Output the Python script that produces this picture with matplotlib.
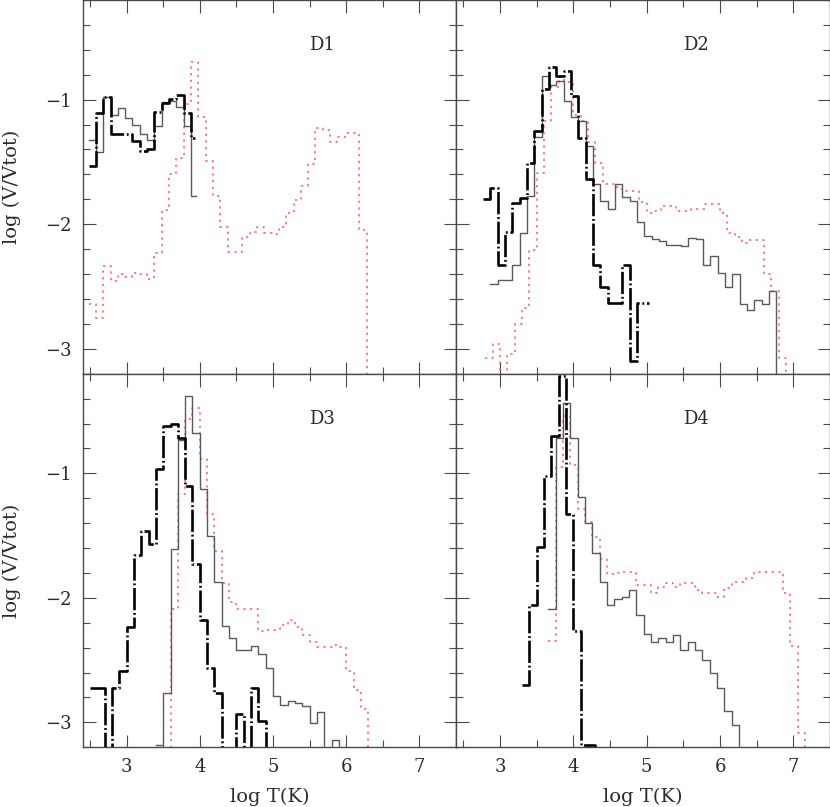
import numpy as np
import matplotlib
matplotlib.use("Agg")
import matplotlib.pyplot as plt
from matplotlib.ticker import MultipleLocator

# ---------------- data (log V/Vtot per 0.1-dex log T bin) ----------------
BIN = 0.1
panel_names = ["D1", "D2", "D3", "D4"]
x_ticks = [3, 4, 5, 6, 7]
y_ticks = [-3, -2, -1]

# D1
d1_black_x0 = 2.48
d1_black = [-1.53, -1.107, -0.975, -1.275, -1.275, -1.275, -1.33, -1.41, -1.40,
            -1.10, -1.025, -0.995, -0.96, -1.105, -1.305]
d1_black_last = 0.05
d1_gray_x0 = 2.48
d1_gray = [-1.32, -1.42, -0.98, -1.12, -1.067, -1.147, -1.20, -1.275, -1.326,
           -1.214, -1.019, -1.008, -1.059, -1.214, -1.775]
d1_gray_last = 0.07
d1_red_x0 = 2.48
d1_red = [-2.644, -2.751, -2.337, -2.457, -2.396, -2.42, -2.39, -2.40, -2.44,
          -2.235, -1.888, -1.594, -1.468, -1.035, -0.698, -1.139, -1.492, -1.775,
          -2.024, -2.222, -2.222, -2.104, -2.061, -2.024, -2.07, -2.078, -2.02,
          -1.909, -1.802, -1.695, -1.513, -1.227, -1.24, -1.342, -1.30, -1.267,
          -1.267, -2.048, -3.3]

# D2
d2_black_x0 = 2.77
d2_black = [-1.80, -1.71, -2.33, -2.06, -1.83, -1.79, -1.51, -1.254, -0.914, -0.74,
            -0.807, -0.767, -0.973, -1.307, -1.64, -2.33, -2.50, -2.63, -2.63,
            -2.33, -3.10, -2.63, -2.63]
d2_black_last = 0.06
d2_gray_x0 = 2.87
d2_gray = [-2.476, -2.449, -2.449, -2.33, -2.07, -1.77, -1.30, -0.813, -0.88,
           -0.853, -1.013, -1.14, -1.174, -1.374, -1.68, -1.81, -1.88, -1.676,
           -1.78, -1.81, -1.984, -2.096, -2.118, -2.136, -2.163, -2.163, -2.176,
           -2.11, -2.118, -2.33, -2.257, -2.39, -2.503, -2.396, -2.644, -2.69,
           -2.61, -2.644, -2.537, -3.3]
d2_red_x0 = 2.8
d2_red = [-3.07, -2.965, -3.3, -3.045, -2.805, -2.67, -2.203, -1.588, -1.174, -0.90,
          -0.84, -0.86, -1.12, -1.174, -1.34, -1.51, -1.675, -1.675, -1.72, -1.736,
          -1.736, -1.825, -1.91, -1.89, -1.857, -1.85, -1.89, -1.89, -1.88, -1.877,
          -1.834, -1.84, -1.91, -2.07, -2.104, -2.15, -2.123, -2.13, -2.396,
          -2.537, -3.072, -3.3]

# D3
d3_black_x0 = 2.5
d3_black = [-2.725, -2.725, -3.3, -2.725, -2.586, -2.23, -1.656, -1.464, -1.565,
            -0.965, -0.62, -0.605, -0.714, -1.10, -1.73, -2.176, -2.564, -2.76,
            -3.3, -3.3, -2.93, -3.3, -2.725, -2.99, -3.3]
d3_gray_x0 = 3.4
d3_gray = [-3.18, -2.76, -1.61, -0.73, -0.38, -0.675, -1.125, -1.505, -1.875,
           -2.222, -2.32, -2.417, -2.417, -2.39, -2.45, -2.56, -2.79, -2.86, -2.83,
           -2.845, -2.87, -3.005, -2.92, -3.3, -3.14, -3.3]
d3_red_x0 = 3.5
d3_red = [-3.3, -2.09, -1.17, -0.566, -0.478, -0.885, -1.33, -1.625, -1.878, -2.03,
          -2.09, -2.09, -2.09, -2.27, -2.257, -2.257, -2.217, -2.176, -2.23, -2.297,
          -2.358, -2.396, -2.396, -2.377, -2.396, -2.59, -2.743, -2.893, -3.3]

# D4
d4_black_x0 = 3.3
d4_black = [-2.70, -2.056, -1.588, -1.02, -0.70, -0.215, -1.33, -2.27, -3.18,
            -3.18, -3.3]
d4_gray_x0 = 3.66
d4_gray = [-2.088, -0.72, -0.435, -0.72, -1.187, -1.395, -1.636, -1.869, -2.056,
           -2.01, -1.997, -1.936, -2.136, -2.29, -2.356, -2.32, -2.356, -2.30,
           -2.42, -2.358, -2.42, -2.497, -2.6, -2.725, -2.91, -3.02, -3.3]
d4_red_x0 = 3.66
d4_red = [-2.35, -0.95, -0.54, -0.93, -1.287, -1.394, -1.51, -1.69, -1.81, -1.80,
          -1.79, -1.79, -1.896, -1.896, -1.96, -1.91, -1.877, -1.914, -1.88, -1.88,
          -1.936, -1.957, -1.957, -1.997, -1.922, -1.874, -1.874, -1.84, -1.794,
          -1.79, -1.79, -1.79, -1.957, -2.39, -3.086, -3.3]

panels = [
    [(d1_red_x0, d1_red, None), (d1_gray_x0, d1_gray, d1_gray_last), (d1_black_x0, d1_black, d1_black_last)],
    [(d2_red_x0, d2_red, None), (d2_gray_x0, d2_gray, None), (d2_black_x0, d2_black, d2_black_last)],
    [(d3_red_x0, d3_red, None), (d3_gray_x0, d3_gray, None), (d3_black_x0, d3_black, None)],
    [(d4_red_x0, d4_red, None), (d4_gray_x0, d4_gray, None), (d4_black_x0, d4_black, None)],
]

# ---------------- style ----------------
plt.rcParams['font.family'] = ['DejaVu Serif']
plt.rcParams['lines.scale_dashes'] = False
TXT = '#2a2a2a'
AXC = '#4a4a4a'
FS = 13
FS_LAB = 14

styles = [
    dict(color='#ff5a5a', lw=1.1, dashes=[1.6, 3.2], zorder=2),
    dict(color='#5a5a5a', lw=1.0, zorder=3),
    dict(color='black', lw=1.9, dashes=[16, 2.0, 1.3, 2.0], dash_capstyle='butt', zorder=4),
]

W, H = 830, 807
fig = plt.figure(figsize=(W / 100, H / 100), dpi=100)

x_l, x_m, x_r = 82.7, 456.0, 830.0
y_t, y_m, y_b = 0.0, 373.7, 747.3
boxes = [
    (x_l, y_t, x_m, y_m), (x_m, y_t, x_r, y_m),
    (x_l, y_m, x_m, y_b), (x_m, y_m, x_r, y_b),
]


def draw(ax, x0, vals, last, style):
    vals = np.asarray(vals, dtype=float)
    edges = x0 + BIN * np.arange(len(vals) + 1)
    if last is not None:
        edges[-1] = edges[-2] + last
    ax.plot(edges, np.append(vals, vals[-1]), drawstyle='steps-post', **style)


for i, (bx0, by0, bx1, by1) in enumerate(boxes):
    ax = fig.add_axes([bx0 / W, 1 - by1 / H, (bx1 - bx0) / W, (by1 - by0) / H])
    ax.set_xlim(2.4, 7.5)
    ax.set_ylim(-3.2, -0.2)
    for (x0, vals, last), st in zip(panels[i], styles):
        draw(ax, x0, vals, last, st)
    ax.xaxis.set_major_locator(MultipleLocator(1))
    ax.xaxis.set_minor_locator(MultipleLocator(0.5))
    ax.yaxis.set_major_locator(MultipleLocator(1))
    ax.yaxis.set_minor_locator(MultipleLocator(0.2))
    ax.set_xticks(x_ticks)
    ax.set_yticks(y_ticks)
    ax.tick_params(which='both', direction='in', top=True, right=True,
                   color=AXC, width=0.8, labelsize=FS, labelcolor=TXT)
    ax.tick_params(which='major', length=9, pad=8)
    ax.tick_params(which='minor', length=5)
    for s in ax.spines.values():
        s.set_color(AXC)
        s.set_linewidth(1.0)
    col = i % 2
    row = i // 2
    if col == 1:
        ax.tick_params(labelleft=False)
    else:
        ax.set_ylabel('log (V/Vtot)', fontsize=FS_LAB, color=TXT, ha='center', va='center')
        ax.yaxis.set_label_coords(-0.19, 0.5)
    if row == 0:
        ax.tick_params(labelbottom=False)
    else:
        ax.set_xlabel('log T(K)', fontsize=FS_LAB, color=TXT, ha='center', va='center')
        ax.xaxis.set_label_coords(0.5, -0.133)
    ax.text(5.67, -0.56, panel_names[i], fontsize=FS, color=TXT, ha='center', va='center')

fig.savefig('out.png', dpi=100)
